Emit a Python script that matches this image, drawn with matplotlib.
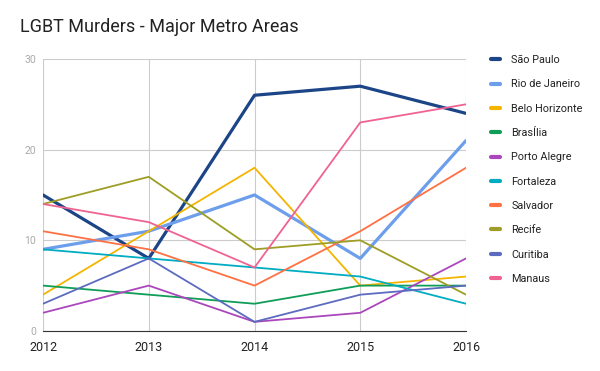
import matplotlib.pyplot as plt

plt.rcParams["font.family"] = ["Roboto", "DejaVu Sans"]

years = [2012, 2013, 2014, 2015, 2016]
cities = ["São Paulo", "Rio de Janeiro", "Belo Horizonte", "BrasÍlia",
          "Porto Alegre", "Fortaleza", "Salvador", "Recife", "Curitiba",
          "Manaus"]
sao_paulo = [15, 8, 26, 27, 24]
rio = [9, 11, 15, 8, 21]
belo_horizonte = [4, 11, 18, 5, 6]
brasilia = [5, 4, 3, 5, 5]
porto_alegre = [2, 5, 1, 2, 8]
fortaleza = [9, 8, 7, 6, 3]
salvador = [11, 9, 5, 11, 18]
recife = [14, 17, 9, 10, 4]
curitiba = [3, 8, 1, 4, 5]
manaus = [14, 12, 7, 23, 25]

series = [sao_paulo, rio, belo_horizonte, brasilia, porto_alegre,
          fortaleza, salvador, recife, curitiba, manaus]
colors = ["#1c4587", "#6d9eeb", "#f4b400", "#0f9d58", "#ab47bc",
          "#00acc1", "#ff7043", "#9e9d24", "#5c6bc0", "#f06292"]
widths = [2.3, 2.3, 1.3, 1.3, 1.3, 1.3, 1.3, 1.3, 1.3, 1.3]

fig = plt.figure(figsize=(6, 3.71), dpi=100)
ax = fig.add_axes([0.0717, 0.108, 0.705, 0.733])

for name, vals, c, lw in zip(cities, series, colors, widths):
    ax.plot(years, vals, color=c, lw=lw, label=name, solid_capstyle="round")

ax.set_xlim(2012, 2016)
ax.set_ylim(0, 30)
ax.set_xticks(years)
ax.set_yticks([0, 10, 20, 30])
ax.grid(True, color="#cccccc", lw=0.8)
ax.set_axisbelow(True)
for s in ["top", "right", "left"]:
    ax.spines[s].set_visible(False)
ax.spines["bottom"].set_color("#333333")
ax.tick_params(axis="both", length=0)
ax.tick_params(axis="x", labelsize=9, colors="#222222", pad=7)
ax.tick_params(axis="y", labelsize=7.5, colors="#aaaaaa", pad=5)

fig.text(0.033, 0.915, "LGBT Murders - Major Metro Areas", fontsize=13,
         color="#222222")

leg = ax.legend(loc="upper left", bbox_to_anchor=(1.035, 1.05), frameon=False,
                fontsize=7.8, handlelength=0.9, handletextpad=1.0,
                labelspacing=1.32, labelcolor="#222222")
for h in leg.get_lines():
    h.set_linewidth(3)
    h.set_solid_capstyle("round")

fig.savefig("out.png", dpi=100)
